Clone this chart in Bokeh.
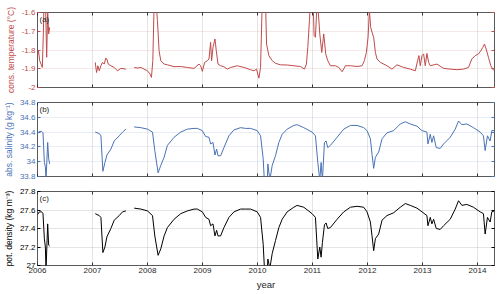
from bokeh.plotting import figure
from bokeh.layouts import column
from bokeh.models import Range1d, LinearAxis, FixedTicker, Label
from bokeh.embed import file_html
from bokeh.resources import INLINE

nan = float("nan")

# ---------------- data ----------------
temp_year = [
    2006.000, 2006.016, 2006.040, 2006.064, 2006.088, 2006.106, 2006.118, 2006.135,
    2006.148, 2006.167, 2006.185, 2006.203, 2006.221,
    2006.500,
    2007.050, 2007.074, 2007.098, 2007.123, 2007.153, 2007.183, 2007.213, 2007.243,
    2007.262, 2007.286, 2007.334, 2007.395, 2007.455, 2007.516, 2007.607,
    2007.680,
    2007.758, 2007.818, 2007.879, 2007.939, 2008.000, 2008.048, 2008.072, 2008.097,
    2008.121, 2008.157, 2008.181, 2008.211, 2008.242, 2008.302, 2008.362, 2008.483,
    2008.604, 2008.725, 2008.846, 2008.937, 2008.967, 2008.997,
    2009.040, 2009.088, 2009.118, 2009.148, 2009.166, 2009.191, 2009.227, 2009.251,
    2009.282, 2009.330, 2009.390, 2009.451, 2009.511, 2009.632, 2009.753, 2009.874,
    2009.935, 2009.983,
    2010.026, 2010.056, 2010.086, 2010.147, 2010.165, 2010.207, 2010.268, 2010.328,
    2010.419, 2010.540, 2010.661, 2010.782, 2010.854, 2010.890, 2010.915, 2010.945,
    2010.963,
    2011.012, 2011.030, 2011.054, 2011.078, 2011.102, 2011.133, 2011.169, 2011.205,
    2011.241, 2011.278, 2011.326, 2011.418, 2011.478, 2011.539, 2011.599, 2011.690,
    2011.811, 2011.902, 2011.944, 2011.980,
    2012.011, 2012.035, 2012.059, 2012.083, 2012.113, 2012.144, 2012.174, 2012.234,
    2012.355, 2012.446, 2012.537, 2012.658, 2012.779, 2012.870, 2012.912, 2012.936,
    2012.960, 2012.991,
    2013.021, 2013.051, 2013.081, 2013.112, 2013.142, 2013.263, 2013.384, 2013.505,
    2013.626, 2013.747, 2013.837, 2013.898, 2013.958,
    2014.019, 2014.061, 2014.097, 2014.128, 2014.158, 2014.200, 2014.243, 2014.279,
    2014.309,
]
temp_val = [
    -1.830, -1.800, -1.857, -1.875, -1.893, -1.714, -1.550, -1.560,
    -1.580, -1.839, -1.590, -1.714, -1.679,
    nan,
    -1.866, -1.920, -1.884, -1.911, -1.884, -1.866, -1.875, -1.843,
    -1.848, -1.875, -1.884, -1.893, -1.911, -1.898, -1.902,
    nan,
    -1.893, -1.896, -1.893, -1.902, -1.911, -1.929, -1.946, -1.857,
    -1.550, -1.550, -1.643, -1.804, -1.857, -1.875, -1.879, -1.889,
    -1.888, -1.893, -1.898, -1.875, -1.884, -1.914,
    -1.866, -1.857, -1.848, -1.759, -1.857, -1.786, -1.741, -1.804,
    -1.875, -1.884, -1.889, -1.902, -1.893, -1.884, -1.893, -1.905,
    -1.911, -1.902,
    -1.950, -1.893, -1.550, -1.550, -1.768, -1.830, -1.857, -1.871,
    -1.879, -1.880, -1.884, -1.888, -1.902, -1.875, -1.786, -1.643,
    -1.550,
    -1.550, -1.723, -1.732, -1.580, -1.580, -1.714, -1.813, -1.714,
    -1.821, -1.857, -1.884, -1.884, -1.893, -1.916, -1.884, -1.884,
    -1.888, -1.884, -1.857, -1.813,
    -1.732, -1.590, -1.679, -1.705, -1.732, -1.813, -1.848, -1.866,
    -1.884, -1.902, -1.879, -1.893, -1.902, -1.911, -1.857, -1.830,
    -1.884, -1.830,
    -1.821, -1.884, -1.818, -1.866, -1.884, -1.875, -1.898, -1.902,
    -1.905, -1.902, -1.893, -1.848, -1.830,
    -1.821, -1.804, -1.786, -1.768, -1.795, -1.839, -1.884, -1.902,
    -1.911,
]

# salinity and density share the same sampling times
sd_year = [
    2006.000, 2006.034, 2006.076, 2006.100, 2006.125, 2006.143, 2006.155, 2006.185, 2006.203, 2006.221,
    2006.500,
    2007.050, 2007.123, 2007.153, 2007.189, 2007.226, 2007.262, 2007.334, 2007.395, 2007.486, 2007.546, 2007.607,
    2007.680,
    2007.758, 2007.879, 2008.000, 2008.091, 2008.133, 2008.193, 2008.242, 2008.302,
    2008.362, 2008.483, 2008.604, 2008.725, 2008.846, 2008.906, 2008.997,
    2009.058, 2009.118, 2009.148, 2009.191, 2009.227, 2009.257, 2009.282, 2009.330, 2009.390, 2009.481,
    2009.572, 2009.693, 2009.784, 2009.874, 2009.995,
    2010.056, 2010.104, 2010.128, 2010.177, 2010.189, 2010.225, 2010.268, 2010.328, 2010.389, 2010.449,
    2010.540, 2010.661, 2010.721, 2010.842, 2010.994,
    2011.054, 2011.097, 2011.133, 2011.157, 2011.181, 2011.218, 2011.248, 2011.278, 2011.326, 2011.448,
    2011.569, 2011.690, 2011.811, 2011.932, 2011.992,
    2012.053, 2012.083, 2012.113, 2012.144, 2012.204, 2012.265, 2012.355, 2012.476, 2012.597, 2012.688,
    2012.779, 2012.900, 2012.991,
    2013.081, 2013.100, 2013.142, 2013.172, 2013.203, 2013.251, 2013.323, 2013.384, 2013.505, 2013.596,
    2013.656, 2013.717, 2013.807, 2013.928,
    2014.049, 2014.109, 2014.140, 2014.182, 2014.231, 2014.261, 2014.309,
]
sal_val = [
    34.38, 34.41, 34.41, 34.39, 33.99, 33.93, 33.75, 34.26, 34.04, 33.97,
    nan,
    34.40, 34.38, 34.35, 33.87, 33.99, 34.09, 34.17, 34.28, 34.35, 34.40, 34.44,
    nan,
    34.47, 34.46, 34.44, 34.40, 34.15, 33.85, 33.95, 34.06,
    34.22, 34.33, 34.40, 34.44, 34.45, 34.45, 34.42,
    34.34, 34.33, 34.24, 34.26, 34.09, 34.17, 34.08, 34.08, 34.19, 34.35,
    34.43, 34.46, 34.45, 34.45, 34.42,
    34.35, 34.04, 33.70, 33.70, 33.97, 33.75, 33.95, 34.08, 34.26, 34.37,
    34.44, 34.49, 34.50, 34.46, 34.40,
    34.35, 33.99, 33.75, 33.99, 33.75, 34.26, 34.28, 34.19, 34.22, 34.33,
    34.44, 34.49, 34.49, 34.46, 34.42,
    34.31, 34.10, 33.91, 34.06, 34.13, 34.31, 34.39, 34.42, 34.51, 34.54,
    34.51, 34.48, 34.42,
    34.40, 34.24, 34.37, 34.26, 34.35, 34.19, 34.18, 34.24, 34.33, 34.44,
    34.55, 34.50, 34.51, 34.46,
    34.40, 34.35, 34.15, 34.35, 34.28, 34.42, 34.42,
]
dens_val = [
    27.55, 27.58, 27.58, 27.56, 27.29, 27.20, 26.95, 27.45, 27.22, 27.21,
    nan,
    27.56, 27.54, 27.52, 27.14, 27.20, 27.31, 27.40, 27.49, 27.54, 27.58, 27.59,
    nan,
    27.62, 27.61, 27.59, 27.54, 27.32, 27.11, 27.18, 27.32,
    27.41, 27.50, 27.56, 27.59, 27.61, 27.61, 27.58,
    27.52, 27.50, 27.43, 27.45, 27.32, 27.38, 27.32, 27.32, 27.41, 27.52,
    27.58, 27.61, 27.61, 27.61, 27.58,
    27.52, 27.23, 26.95, 26.95, 27.07, 26.97, 27.13, 27.27, 27.41, 27.50,
    27.58, 27.63, 27.65, 27.63, 27.56,
    27.52, 27.07, 27.20, 27.09, 27.25, 27.44, 27.46, 27.40, 27.41, 27.50,
    27.58, 27.63, 27.64, 27.63, 27.58,
    27.47, 27.32, 27.16, 27.29, 27.34, 27.49, 27.54, 27.57, 27.63, 27.67,
    27.65, 27.62, 27.58,
    27.54, 27.43, 27.52, 27.45, 27.50, 27.40, 27.39, 27.43, 27.50, 27.61,
    27.70, 27.65, 27.66, 27.63,
    27.58, 27.56, 27.34, 27.52, 27.47, 27.58, 27.59,
]

year_ticks = [2006, 2007, 2008, 2009, 2010, 2011, 2012, 2013, 2014]
year_labels = ["2006", "2007", "2008", "2009", "2010", "2011", "2012", "2013", "2014"]
temp_ticks = [-2.0, -1.9, -1.8, -1.7, -1.6]
temp_labels = ["-2", "-1.9", "-1.8", "-1.7", "-1.6"]
sal_ticks = [33.8, 34.0, 34.2, 34.4, 34.6, 34.8]
sal_labels = ["33.8", "34", "34.2", "34.4", "34.6", "34.8"]
dens_ticks = [27.0, 27.2, 27.4, 27.6, 27.8]
dens_labels = ["27", "27.2", "27.4", "27.6", "27.8"]

FONT = "Liberation Sans"
RED = "#bf4b4b"
BLUE = "#4a72b6"
BLACK = "#000000"
FRAME = "#5a5a5a"
X_MIN, X_MAX = 2006.0, 2014.31


def hidden_axis(ticks, color):
    return LinearAxis(ticker=FixedTicker(ticks=ticks), axis_line_color=None,
                      major_tick_in=3, major_tick_out=0, major_tick_line_color=color,
                      minor_tick_line_color=None, major_label_text_font_size="0px",
                      major_label_text_color=None, major_label_standoff=0)


def make_panel(height, b_top, b_bottom, yr, ticks, labels, color, ylabel, tag, show_x):
    p = figure(width=500, height=height,
               x_range=Range1d(X_MIN, X_MAX), y_range=Range1d(*yr),
               output_backend="svg", toolbar_location=None,
               x_axis_location=("below" if show_x else None),
               min_border_left=37, min_border_right=6,
               min_border_top=b_top, min_border_bottom=b_bottom)
    p.background_fill_color = "white"
    p.border_fill_color = "white"
    p.outline_line_color = FRAME
    p.outline_line_width = 1

    xt = FixedTicker(ticks=year_ticks)
    yt = FixedTicker(ticks=ticks)

    if show_x:
        xa = p.xaxis[0]
        xa.ticker = xt
        xa.axis_line_color = None
        xa.major_tick_in = 3
        xa.major_tick_out = 0
        xa.major_tick_line_color = "#333333"
        xa.minor_tick_line_color = None
        xa.major_label_overrides = {t: l for t, l in zip(year_ticks, year_labels)}
        xa.major_label_text_font = FONT
        xa.major_label_text_font_size = "8px"
        xa.major_label_text_color = "#262626"
        xa.major_label_standoff = 2
        xa.axis_label = "year"
        xa.axis_label_text_font = FONT
        xa.axis_label_text_font_size = "9.5px"
        xa.axis_label_text_font_style = "normal"
        xa.axis_label_text_color = "#262626"
        xa.axis_label_standoff = 3
    else:
        p.add_layout(hidden_axis(year_ticks, "#333333"), "below")

    ya = p.yaxis[0]
    ya.ticker = yt
    ya.major_label_overrides = {t: l for t, l in zip(ticks, labels)}
    ya.axis_line_color = None
    ya.major_tick_in = 3
    ya.major_tick_out = 0
    ya.major_tick_line_color = color
    ya.minor_tick_line_color = None
    ya.major_label_text_font = FONT
    ya.major_label_text_font_size = "8px"
    ya.major_label_text_color = color
    ya.major_label_standoff = 2
    ya.axis_label = ylabel
    ya.axis_label_text_font = FONT
    ya.axis_label_text_font_size = "8.5px"
    ya.axis_label_text_font_style = "normal"
    ya.axis_label_text_color = color
    ya.axis_label_standoff = 3

    p.add_layout(hidden_axis(year_ticks, "#333333"), "above")
    p.add_layout(hidden_axis(ticks, color), "right")

    p.xgrid.ticker = xt
    p.xgrid.grid_line_color = "#000000"
    p.xgrid.grid_line_alpha = 0.1
    p.ygrid.ticker = yt
    p.ygrid.grid_line_color = color
    p.ygrid.grid_line_alpha = 0.13 if color != BLACK else 0.1

    p.add_layout(Label(x=X_MIN, y=yr[1], text=tag, x_offset=2, y_offset=-2,
                       text_baseline="top", text_font=FONT, text_font_size="8px",
                       text_color="#262626"))
    return p


pa = make_panel(94, 12, 7, (-2.0, -1.6), temp_ticks, temp_labels, RED,
                "cons. temperature (\u00b0C)", "(a)", False)
pa.line(temp_year, temp_val, line_color=RED, line_width=1)

pb = make_panel(89, 8, 7, (33.8, 34.8), sal_ticks, sal_labels, BLUE,
                "abs. salinity (g kg\u207b\u00b9)", "(b)", False)
pb.line(sd_year, sal_val, line_color=BLUE, line_width=1)

pc = make_panel(111, 8, 29, (27.0, 27.8), dens_ticks, dens_labels, BLACK,
                "pot. density (kg m\u207b\u00b3)", "(c)", True)
pc.line(sd_year, dens_val, line_color=BLACK, line_width=1)

layout = column(pa, pb, pc, spacing=0)
open("out.html", "w").write(file_html(layout, INLINE))
